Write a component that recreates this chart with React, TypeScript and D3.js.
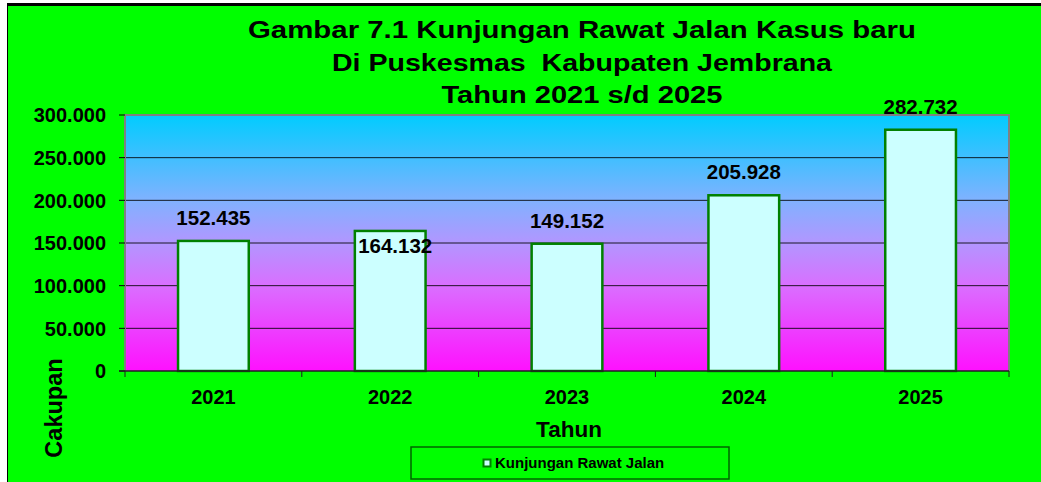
import React from "react";
import * as d3 from "d3";

const categories = ["2021", "2022", "2023", "2024", "2025"];
const values = [152435, 164132, 149152, 205928, 282732];
const valueLabels = ["152.435", "164.132", "149.152", "205.928", "282.732"];
const yTicks = [0, 50000, 100000, 150000, 200000, 250000, 300000];
const yTickLabels = ["0", "50.000", "100.000", "150.000", "200.000", "250.000", "300.000"];
const labelInsideBar = [false, true, false, false, false];
const titleLines = [
  "Gambar 7.1 Kunjungan Rawat Jalan Kasus baru",
  "Di Puskesmas  Kabupaten Jembrana",
  "Tahun 2021 s/d 2025",
];
const titleWidths = [668, 500, 281];
const seriesName = "Kunjungan Rawat Jalan";

const W = 1041;
const H = 482;
const plot = { left: 125, right: 1009, top: 115, bottom: 371 };
const FONT = "'Liberation Sans', Arial, sans-serif";

export default function App() {
  const x = d3
    .scaleBand<string>()
    .domain(categories)
    .range([plot.left, plot.right])
    .paddingInner(0.6)
    .paddingOuter(0.3);
  const xStep = (plot.right - plot.left) / categories.length;
  const y = d3.scaleLinear().domain([0, 300000]).range([plot.bottom, plot.top]);

  return (
    <svg
      width={W}
      height={H}
      style={{ position: "absolute", left: 0, top: 0, display: "block" }}
      fontFamily={FONT}
    >
      <defs>
        <linearGradient id="bg" x1="0" y1="0" x2="0" y2="1">
          <stop offset="0" stopColor="#00CCFF" />
          <stop offset="0.33" stopColor="#7FB2FF" />
          <stop offset="0.5" stopColor="#B296FF" />
          <stop offset="0.67" stopColor="#DA6EFF" />
          <stop offset="1" stopColor="#FF10FF" />
        </linearGradient>
      </defs>
      <rect x={0} y={0} width={W} height={H} fill="#ffffff" />
      <rect x={7} y={3} width={W - 7} height={H - 3} fill="#00FF00" />
      <rect x={7} y={3} width={W - 7} height={3} fill="#000000" />
      <rect x={7} y={3} width={1} height={H - 3} fill="#000000" />

      {/* title */}
      {titleLines.map((t, i) => (
        <text
          key={i}
          x={582}
          y={38 + i * 32.5}
          textAnchor="middle"
          fontWeight="bold"
          fontSize={23}
          fill="#000"
          textLength={titleWidths[i]}
          lengthAdjust="spacingAndGlyphs"
          style={{ whiteSpace: "pre" }}
        >
          {t}
        </text>
      ))}

      {/* plot area */}
      <rect
        x={plot.left}
        y={plot.top}
        width={plot.right - plot.left}
        height={plot.bottom - plot.top}
        fill="url(#bg)"
      />
      {yTicks.slice(1, -1).map((t) => (
        <line
          key={t}
          x1={plot.left}
          x2={plot.right}
          y1={y(t)}
          y2={y(t)}
          stroke="#000"
          strokeWidth={1}
          strokeOpacity={0.85}
        />
      ))}
      {/* plot border (gray) */}
      <path
        d={`M${plot.left},${plot.bottom} V${plot.top} H${plot.right} V${plot.bottom}`}
        fill="none"
        stroke="#808080"
        strokeWidth={2}
      />
      {/* y ticks */}
      {yTicks.map((t, i) => (
        <g key={t}>
          <line x1={plot.left - 6} x2={plot.left} y1={y(t)} y2={y(t)} stroke="#000" strokeWidth={1} />
          <text
            x={106}
            y={y(t)}
            dy="0.36em"
            textAnchor="end"
            fontWeight="bold"
            fontSize={20}
            fill="#000"
          >
            {yTickLabels[i]}
          </text>
        </g>
      ))}

      {/* bars */}
      {values.map((v, i) => (
        <rect
          key={categories[i]}
          x={x(categories[i])!}
          y={y(v)}
          width={x.bandwidth()}
          height={plot.bottom - y(v)}
          fill="#CCFFFF"
          stroke="#008000"
          strokeWidth={2.5}
        />
      ))}

      {/* x axis */}
      <line x1={plot.left - 6} x2={plot.right} y1={plot.bottom} y2={plot.bottom} stroke="#202020" strokeWidth={1.5} />
      {d3.range(categories.length + 1).map((i) => (
        <line
          key={i}
          x1={plot.left + i * xStep}
          x2={plot.left + i * xStep}
          y1={plot.bottom}
          y2={plot.bottom + 6}
          stroke="#202020"
          strokeWidth={1}
        />
      ))}
      {categories.map((c) => (
        <text
          key={c}
          x={x(c)! + x.bandwidth() / 2}
          y={404}
          textAnchor="middle"
          fontWeight="bold"
          fontSize={20}
          fill="#000"
        >
          {c}
        </text>
      ))}

      {/* data labels */}
      {values.map((v, i) => (
        <text
          key={"l" + i}
          x={x(categories[i])! + x.bandwidth() / 2 + (labelInsideBar[i] ? 5 : 0)}
          y={labelInsideBar[i] ? y(v) + 22 : y(v) - 16}
          textAnchor="middle"
          fontWeight="bold"
          fontSize={20.5}
          fill="#000"
        >
          {valueLabels[i]}
        </text>
      ))}

      {/* axis titles */}
      <text x={569} y={437} textAnchor="middle" fontWeight="bold" fontSize={22.5} fill="#000">
        Tahun
      </text>
      <text
        transform="translate(62,408) rotate(-90)"
        textAnchor="middle"
        fontWeight="bold"
        fontSize={23.5}
        fill="#000"
      >
        Cakupan
      </text>

      {/* legend */}
      <rect x={411} y={447} width={318} height={32} fill="#00FF00" stroke="#006400" strokeWidth={1.5} />
      <rect x={483.5} y={459.5} width={7} height={7} fill="#CCFFFF" stroke="#008000" strokeWidth={2} />
      <text x={495} y={468} fontWeight="bold" fontSize={15} fill="#000">
        {seriesName}
      </text>
    </svg>
  );
}
